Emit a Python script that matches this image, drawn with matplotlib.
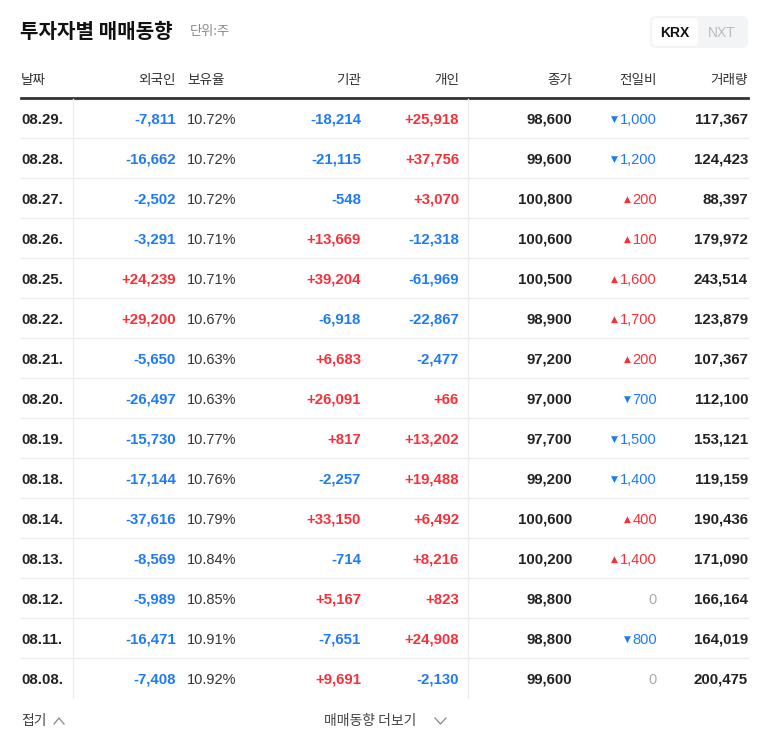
import matplotlib
matplotlib.use("Agg")
import matplotlib.pyplot as plt
from matplotlib.patches import FancyBboxPatch

dates = ["08.29.","08.28.","08.27.","08.26.","08.25.","08.22.","08.21.","08.20.","08.19.","08.18.","08.14.","08.13.","08.12.","08.11.","08.08."]
foreign = [-7811,-16662,-2502,-3291,24239,29200,-5650,-26497,-15730,-17144,-37616,-8569,-5989,-16471,-7408]
holding = [10.72,10.72,10.72,10.71,10.71,10.67,10.63,10.63,10.77,10.76,10.79,10.84,10.85,10.91,10.92]
institution = [-18214,-21115,-548,13669,39204,-6918,6683,26091,817,-2257,33150,-714,5167,-7651,9691]
individual = [25918,37756,3070,-12318,-61969,-22867,-2477,66,13202,19488,6492,8216,823,24908,-2130]
close = [98600,99600,100800,100600,100500,98900,97200,97000,97700,99200,100600,100200,98800,98800,99600]
change = [-1000,-1200,200,100,1600,1700,200,-700,-1500,-1400,400,1400,0,-800,0]
volume = [117367,124423,88397,179972,243514,123879,107367,112100,153121,119159,190436,171090,166164,164019,200475]
headers = ["날짜","외국인","보유율","기관","개인","종가","전일비","거래량"]

KR = ["Noto Sans CJK KR", "Noto Sans CJK JP", "Noto Sans CJK SC", "DejaVu Sans"]
NUM = ["Liberation Sans", "DejaVu Sans"]
BLUE = "#1f7cf0"; RED = "#f0333c"; DARK = "#222222"; GREY = "#999999"

fig = plt.figure(figsize=(7.68, 7.49), dpi=100)
ax = fig.add_axes([0, 0, 1, 1])
ax.set_xlim(0, 768); ax.set_ylim(749, 0); ax.axis("off")

ax.text(20, 31, "투자자별 매매동향", fontsize=14.5, fontweight="bold", color="#111111", va="center", family=KR)
ax.text(190, 31, "단위:주", fontsize=9.5, color="#888888", va="center", family=KR)
ax.add_patch(FancyBboxPatch((650, 16), 98, 32, boxstyle="round,pad=0,rounding_size=6", fc="#f3f4f6", ec="none"))
ax.add_patch(FancyBboxPatch((652, 18), 46, 28, boxstyle="round,pad=0,rounding_size=5", fc="white", ec="none"))
ax.text(675, 33, "KRX", fontsize=10, fontweight="bold", color="#111111", ha="center", va="center", family=NUM)
ax.text(722, 33, "NXT", fontsize=10, color="#bbbbbb", ha="center", va="center", family=NUM)

hy = 80
hx = [(21,"left"),(176,"right"),(187,"left"),(361,"right"),(459,"right"),(572,"right"),(657,"right"),(748,"right")]
for (x, ha), h in zip(hx, headers):
    ax.text(x, hy, h, fontsize=9.8, color="#333333", ha=ha, va="center", family=KR)
ax.plot([21, 748], [98, 98], color="#333333", lw=2)

n = len(dates)
top = 98; rh = 40
def sc(v):
    return BLUE if v < 0 else RED
def sf(v):
    return f"{v:+,}" if v > 0 else f"{v:,}"
for i in range(n):
    y = top + rh * i + rh / 2 + 6
    if i < n - 1:
        ax.plot([21, 748], [top + rh * (i + 1)] * 2, color="#ececec", lw=1)
    kw = dict(fontsize=10.8, fontweight="bold", va="baseline", family=NUM)
    ax.text(21, y, dates[i], color=DARK, **kw)
    ax.text(176, y, sf(foreign[i]), color=sc(foreign[i]), ha="right", **kw)
    ax.text(187, y, f"{holding[i]:.2f}%", fontsize=10.5, color="#333333", va="baseline", family=NUM)
    ax.text(361, y, sf(institution[i]), color=sc(institution[i]), ha="right", **kw)
    ax.text(459, y, sf(individual[i]), color=sc(individual[i]), ha="right", **kw)
    ax.text(572, y, f"{close[i]:,}", color=DARK, ha="right", **kw)
    c = change[i]
    col = "#aaaaaa" if c == 0 else (BLUE if c < 0 else RED)
    t = ax.text(657, y, f"{abs(c):,}", fontsize=10.5, color=col, ha="right", va="baseline", family=NUM)
    if c != 0:
        fig.canvas.draw()
        bb = t.get_window_extent()
        ax.text(bb.x0 - 2, y - 5, "▼" if c < 0 else "▲", fontsize=6.5, color=col, ha="right", va="center", family="DejaVu Sans")
    ax.text(748, y, f"{volume[i]:,}", color=DARK, ha="right", **kw)

bottom = top + rh * n
for x in (73, 468):
    ax.plot([x, x], [top + 1, bottom], color="#ececec", lw=1)

ax.text(21, 721, "접기", fontsize=10, color="#444444", va="center", family=KR)
ax.plot([54, 59, 64], [724, 718, 724], color="#888888", lw=0.9)
ax.text(324, 721, "매매동향 더보기", fontsize=10, color="#444444", va="center", family=KR)
ax.plot([435, 440.5, 446], [718, 724, 718], color="#888888", lw=0.9)

fig.savefig("out.png", dpi=100)
